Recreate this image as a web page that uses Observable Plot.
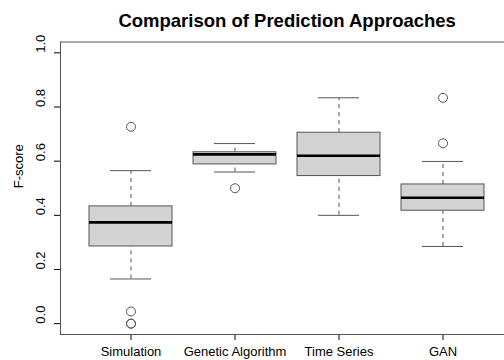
<!DOCTYPE html>
<html>
<head>
<meta charset="utf-8">
<script src="https://cdn.jsdelivr.net/npm/d3@7"></script>
<script src="https://cdn.jsdelivr.net/npm/@observablehq/plot@0.6"></script>
<style>
  html, body { margin: 0; padding: 0; background: #fff; overflow: hidden; }
</style>
</head>
<body>
<div id="chart"></div>
<script>
// ---- data ----
const title = "Comparison of Prediction Approaches";
const yLabel = "F-score";
const categories = ["Simulation", "Genetic Algorithm", "Time Series", "GAN"];
const lowerWhisker = [0.165, 0.560, 0.400, 0.285];
const q1          = [0.285, 0.588, 0.545, 0.417];
const median      = [0.374, 0.625, 0.620, 0.465];
const q3          = [0.433, 0.633, 0.705, 0.514];
const upperWhisker= [0.565, 0.665, 0.834, 0.599];
const outlierCategory = ["Simulation", "Simulation", "Simulation", "Simulation", "Genetic Algorithm", "GAN", "GAN"];
const outlierValue    = [0.727, 0.045, 0.0, 0.0, 0.500, 0.834, 0.666];
const yTicks = [0, 0.2, 0.4, 0.6, 0.8, 1.0];

// ---- tables built from the arrays ----
const boxes = categories.map((c, i) => ({
  cat: c, lo: lowerWhisker[i], q1: q1[i], med: median[i], q3: q3[i], hi: upperWhisker[i]
}));
const outliers = outlierCategory.map((c, i) => ({cat: c, v: outlierValue[i]}));

const lineColor = "#555";

const chart = Plot.plot({
  width: 504,
  height: 360,
  marginLeft: 60,
  marginRight: -9.3,
  marginTop: 41.5,
  marginBottom: 26,
  style: {fontFamily: "'Liberation Sans', Arial, Helvetica, sans-serif", fontSize: "13px", color: "black", background: "white"},
  x: {
    type: "band",
    domain: categories,
    paddingInner: 0.2,
    paddingOuter: 0.2586,
    label: null,
    tickSize: 6,
    tickPadding: 6
  },
  y: {
    domain: [-0.04, 1.04],
    ticks: yTicks,
    tickSize: 6,
    tickFormat: () => "",
    label: null
  },
  marks: [
    // whiskers
    Plot.ruleX(boxes, {x: "cat", y1: "q3", y2: "hi", stroke: lineColor, strokeDasharray: "4,4"}),
    Plot.ruleX(boxes, {x: "cat", y1: "lo", y2: "q1", stroke: lineColor, strokeDasharray: "4,4"}),
    // whisker caps
    Plot.tickY(boxes, {x: "cat", y: "hi", insetLeft: 21, insetRight: 21, stroke: lineColor}),
    Plot.tickY(boxes, {x: "cat", y: "lo", insetLeft: 21, insetRight: 21, stroke: lineColor}),
    // boxes
    Plot.barY(boxes, {x: "cat", y1: "q1", y2: "q3", fill: "#d3d3d3", stroke: lineColor, strokeWidth: 1}),
    // medians
    Plot.tickY(boxes, {x: "cat", y: "med", stroke: "black", strokeWidth: 2.6}),
    // outliers
    Plot.dot(outliers, {x: "cat", y: "v", r: 4.5, stroke: lineColor, fill: "none", strokeWidth: 1}),
    // frame
    Plot.frame({stroke: lineColor}),
    // y tick labels (rotated as in the reference)
    Plot.text(yTicks, {y: d => d, text: d => d.toFixed(1), frameAnchor: "left", dx: -20, rotate: -90, fontSize: 13}),
    // y axis title
    Plot.text([yLabel], {frameAnchor: "left", dx: -42, rotate: -90, fontSize: 13}),
    // chart title
    Plot.text([title], {frameAnchor: "top", dy: -15.5, lineAnchor: "bottom", fontSize: 18.5, fontWeight: "bold"})
  ]
});
document.getElementById("chart").appendChild(chart);
</script>
</body>
</html>
